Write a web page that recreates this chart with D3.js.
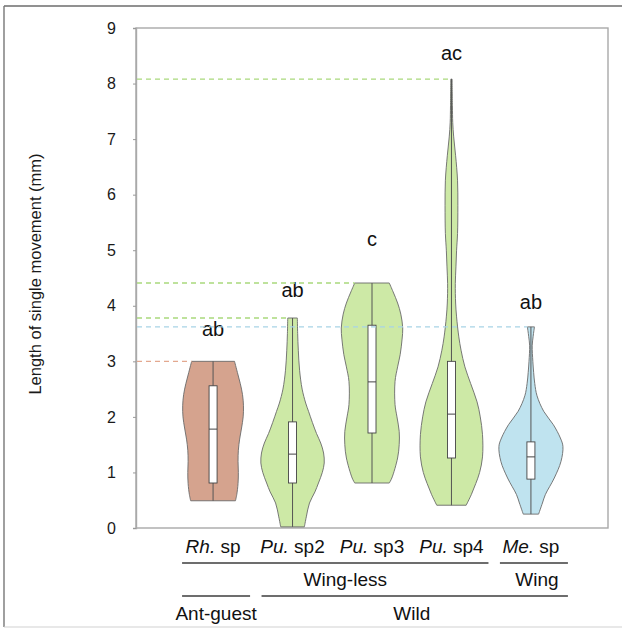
<!DOCTYPE html>
<html>
<head>
<meta charset="utf-8">
<script src="https://cdn.jsdelivr.net/npm/d3@7"></script>
<style>
  html, body { margin: 0; padding: 0; background: #fff; }
  svg { display: block; font-family: "Liberation Sans", Arial, Helvetica, sans-serif; }
</style>
</head>
<body>
<svg id="chart" width="622" height="629"></svg>
<script>
// Species, split into genus abbreviation (italic) and the rest of the name
const genus = ["Rh.", "Pu.", "Pu.", "Pu.", "Me."];
const epithet = ["sp", "sp2", "sp3", "sp4", "sp"];
const categories = ["Rh. sp", "Pu. sp2", "Pu. sp3", "Pu. sp4", "Me. sp"];

// Summary statistics per species (mm)
const minVals    = [0.49, 0.02, 0.81, 0.41, 0.25];
const q1Vals     = [0.81, 0.81, 1.71, 1.26, 0.88];
const medianVals = [1.78, 1.33, 2.63, 2.05, 1.28];
const q3Vals     = [2.56, 1.91, 3.65, 3.00, 1.55];
const maxVals    = [3.00, 3.78, 4.41, 8.08, 3.62];

// Kernel density profiles: [length (mm), relative density]
const densRh = [[0.49,0.70],[0.6,0.74],[0.8,0.78],[1.0,0.79],[1.2,0.78],[1.4,0.79],[1.6,0.83],[1.8,0.89],[2.0,0.94],[2.2,0.95],[2.4,0.92],[2.6,0.85],[2.8,0.76],[3.0,0.67]];
const densPu2 = [[0.02,0.37],[0.2,0.43],[0.45,0.53],[0.65,0.7],[0.81,0.81],[1.0,0.93],[1.17,0.99],[1.35,0.97],[1.53,0.88],[1.7,0.75],[1.9,0.62],[2.1,0.5],[2.25,0.41],[2.5,0.3],[2.84,0.22],[3.2,0.18],[3.5,0.16],[3.78,0.15]];
const densPu3 = [[0.81,0.54],[0.9,0.62],[1.26,0.8],[1.5,0.85],[1.74,0.85],[2.0,0.78],[2.22,0.72],[2.64,0.72],[2.9,0.8],[3.12,0.88],[3.4,0.94],[3.6,0.96],[3.85,0.9],[4.05,0.8],[4.25,0.66],[4.41,0.54]];
const densPu4 = [[0.41,0.46],[0.6,0.62],[0.8,0.76],[1.0,0.88],[1.28,0.97],[1.68,0.97],[2.0,0.9],[2.27,0.8],[2.6,0.6],[2.9,0.42],[3.2,0.3],[3.44,0.23],[3.8,0.16],[4.05,0.13],[4.4,0.12],[4.7,0.14],[5.0,0.16],[5.3,0.19],[5.8,0.2],[6.26,0.19],[6.7,0.13],[7.04,0.07],[7.3,0.04],[7.6,0.03],[8.08,0.02]];
const densMe = [[0.25,0.24],[0.45,0.36],[0.6,0.45],[0.9,0.73],[1.2,0.94],[1.47,1.0],[1.62,0.92],[1.86,0.7],[2.1,0.4],[2.38,0.19],[2.6,0.12],[2.8,0.085],[3.0,0.06],[3.28,0.04],[3.45,0.07],[3.62,0.11]];
const densities = [densRh, densPu2, densPu3, densPu4, densMe];

// Significance groups
const sigLetters = ["ab", "ab", "c", "ac", "ab"];

// Y-axis ticks
const yTicks = [0, 1, 2, 3, 4, 5, 6, 7, 8, 9];

// Grouping rows under the species names: [label, first index, last index]
const habitRow = [["Wing-less", 0, 3], ["Wing", 4, 4]];
const originRow = [["Ant-guest", 0, 0], ["Wild", 1, 4]];

// ---- styling / layout ----
const fills   = ["#d5a38e", "#cde9a6", "#cde9a6", "#cde9a6", "#bfe3ef"];
const guides  = ["#e3a88f", "#a9d97c", "#a9d97c", "#a9d97c", "#a8d3e6"];
const letterLift = [32, 28, 44, 26, 25];
const W = 622, H = 629;
const plot = { left: 136, right: 608, top: 28, bottom: 528 };

const svg = d3.select("#chart");

// outer frame
svg.append("line").attr("x1", 4).attr("x2", W).attr("y1", 6).attr("y2", 6)
  .attr("stroke", "#6d6d6d").attr("stroke-width", 1.6);
svg.append("line").attr("x1", 4).attr("x2", 4).attr("y1", 6).attr("y2", 627)
  .attr("stroke", "#777").attr("stroke-width", 1.4);
svg.append("line").attr("x1", 4).attr("x2", W).attr("y1", 627).attr("y2", 627)
  .attr("stroke", "#d2d2d2").attr("stroke-width", 1.2);

const x = d3.scalePoint().domain(categories).range([plot.left, plot.right]).padding(0.97);
const y = d3.scaleLinear().domain([0, 9]).range([plot.bottom, plot.top]);
const w = d3.scaleLinear().domain([0, 1]).range([0, 32]);

// plot box
svg.append("rect")
  .attr("x", plot.left).attr("y", plot.top)
  .attr("width", plot.right - plot.left).attr("height", plot.bottom - plot.top)
  .attr("fill", "none").attr("stroke", "#a9a9a9").attr("stroke-width", 1.4);

// y axis
const yAxis = svg.append("g")
  .attr("transform", `translate(${plot.left},0)`)
  .call(d3.axisLeft(y).tickValues(yTicks).tickSize(3).tickPadding(17).tickFormat(d3.format("d")));
yAxis.select(".domain").attr("stroke", "#a9a9a9").attr("stroke-width", 1.4);
yAxis.selectAll(".tick line").attr("stroke", "#999");
yAxis.selectAll(".tick text").attr("font-size", 16).attr("fill", "#1a1a1a")
  .attr("font-family", "'Liberation Sans', Arial, sans-serif");

svg.append("text")
  .attr("transform", `translate(41,${(plot.top + plot.bottom) / 2 - 4}) rotate(-90)`)
  .attr("text-anchor", "middle").attr("font-size", 16.5).attr("fill", "#1a1a1a")
  .text("Length of single movement (mm)");

// violins
const area = d3.area()
  .curve(d3.curveCatmullRom.alpha(0.5));

categories.forEach((c, i) => {
  const cx = x(c);
  const g = svg.append("g");
  g.append("path")
    .datum(densities[i])
    .attr("d", area.y(d => y(d[0])).x0(d => cx - w(d[1])).x1(d => cx + w(d[1])))
    .attr("fill", fills[i]).attr("stroke", "#6a6a6a").attr("stroke-width", 0.9);
  // whisker line across full range
  g.append("line").attr("x1", cx).attr("x2", cx)
    .attr("y1", y(minVals[i])).attr("y2", y(maxVals[i]))
    .attr("stroke", "#555").attr("stroke-width", 1);
  // interquartile box
  g.append("rect")
    .attr("x", cx - 4).attr("width", 8)
    .attr("y", y(q3Vals[i])).attr("height", y(q1Vals[i]) - y(q3Vals[i]))
    .attr("fill", "#fff").attr("stroke", "#444").attr("stroke-width", 0.9);
  g.append("line").attr("x1", cx - 4).attr("x2", cx + 4)
    .attr("y1", y(medianVals[i])).attr("y2", y(medianVals[i]))
    .attr("stroke", "#444").attr("stroke-width", 1);
  // significance letters
  svg.append("text")
    .attr("x", cx).attr("y", y(maxVals[i]) - letterLift[i] + 7)
    .attr("text-anchor", "middle").attr("font-size", 20).attr("fill", "#111")
    .text(sigLetters[i]);
});

// dashed guides from the axis to each maximum
categories.forEach((c, i) => {
  const dens = densities[i];
  const topHalf = w(dens[dens.length - 1][1]);
  svg.append("line")
    .attr("x1", plot.left + 1).attr("x2", x(c) - topHalf)
    .attr("y1", y(maxVals[i])).attr("y2", y(maxVals[i]))
    .attr("stroke", guides[i]).attr("stroke-width", 1.3)
    .attr("stroke-dasharray", "5,4");
});

// species labels
const labels = svg.append("g").attr("font-size", 19).attr("fill", "#111").attr("text-anchor", "middle");
categories.forEach((c, i) => {
  const t = labels.append("text").attr("x", x(c)).attr("y", 553);
  t.append("tspan").attr("font-style", "italic").text(genus[i]);
  t.append("tspan").text(" " + epithet[i]);
});

// grouping rows
function groupRow(rows, lineY, textY, nudges) {
  rows.forEach(([label, a, b], k) => {
    const x0 = x(categories[a]) - 31, x1 = x(categories[b]) + 37;
    svg.append("line").attr("x1", x0).attr("x2", x1).attr("y1", lineY).attr("y2", lineY)
      .attr("stroke", "#3c3c3c").attr("stroke-width", 1.4);
    svg.append("text").attr("x", (x0 + x1) / 2 + nudges[k]).attr("y", textY)
      .attr("text-anchor", "middle").attr("font-size", 19).attr("fill", "#111")
      .text(label);
  });
}
groupRow(habitRow, 563, 586, [10, 3]);
groupRow(originRow, 596, 620, [0, -3]);
</script>
</body>
</html>
